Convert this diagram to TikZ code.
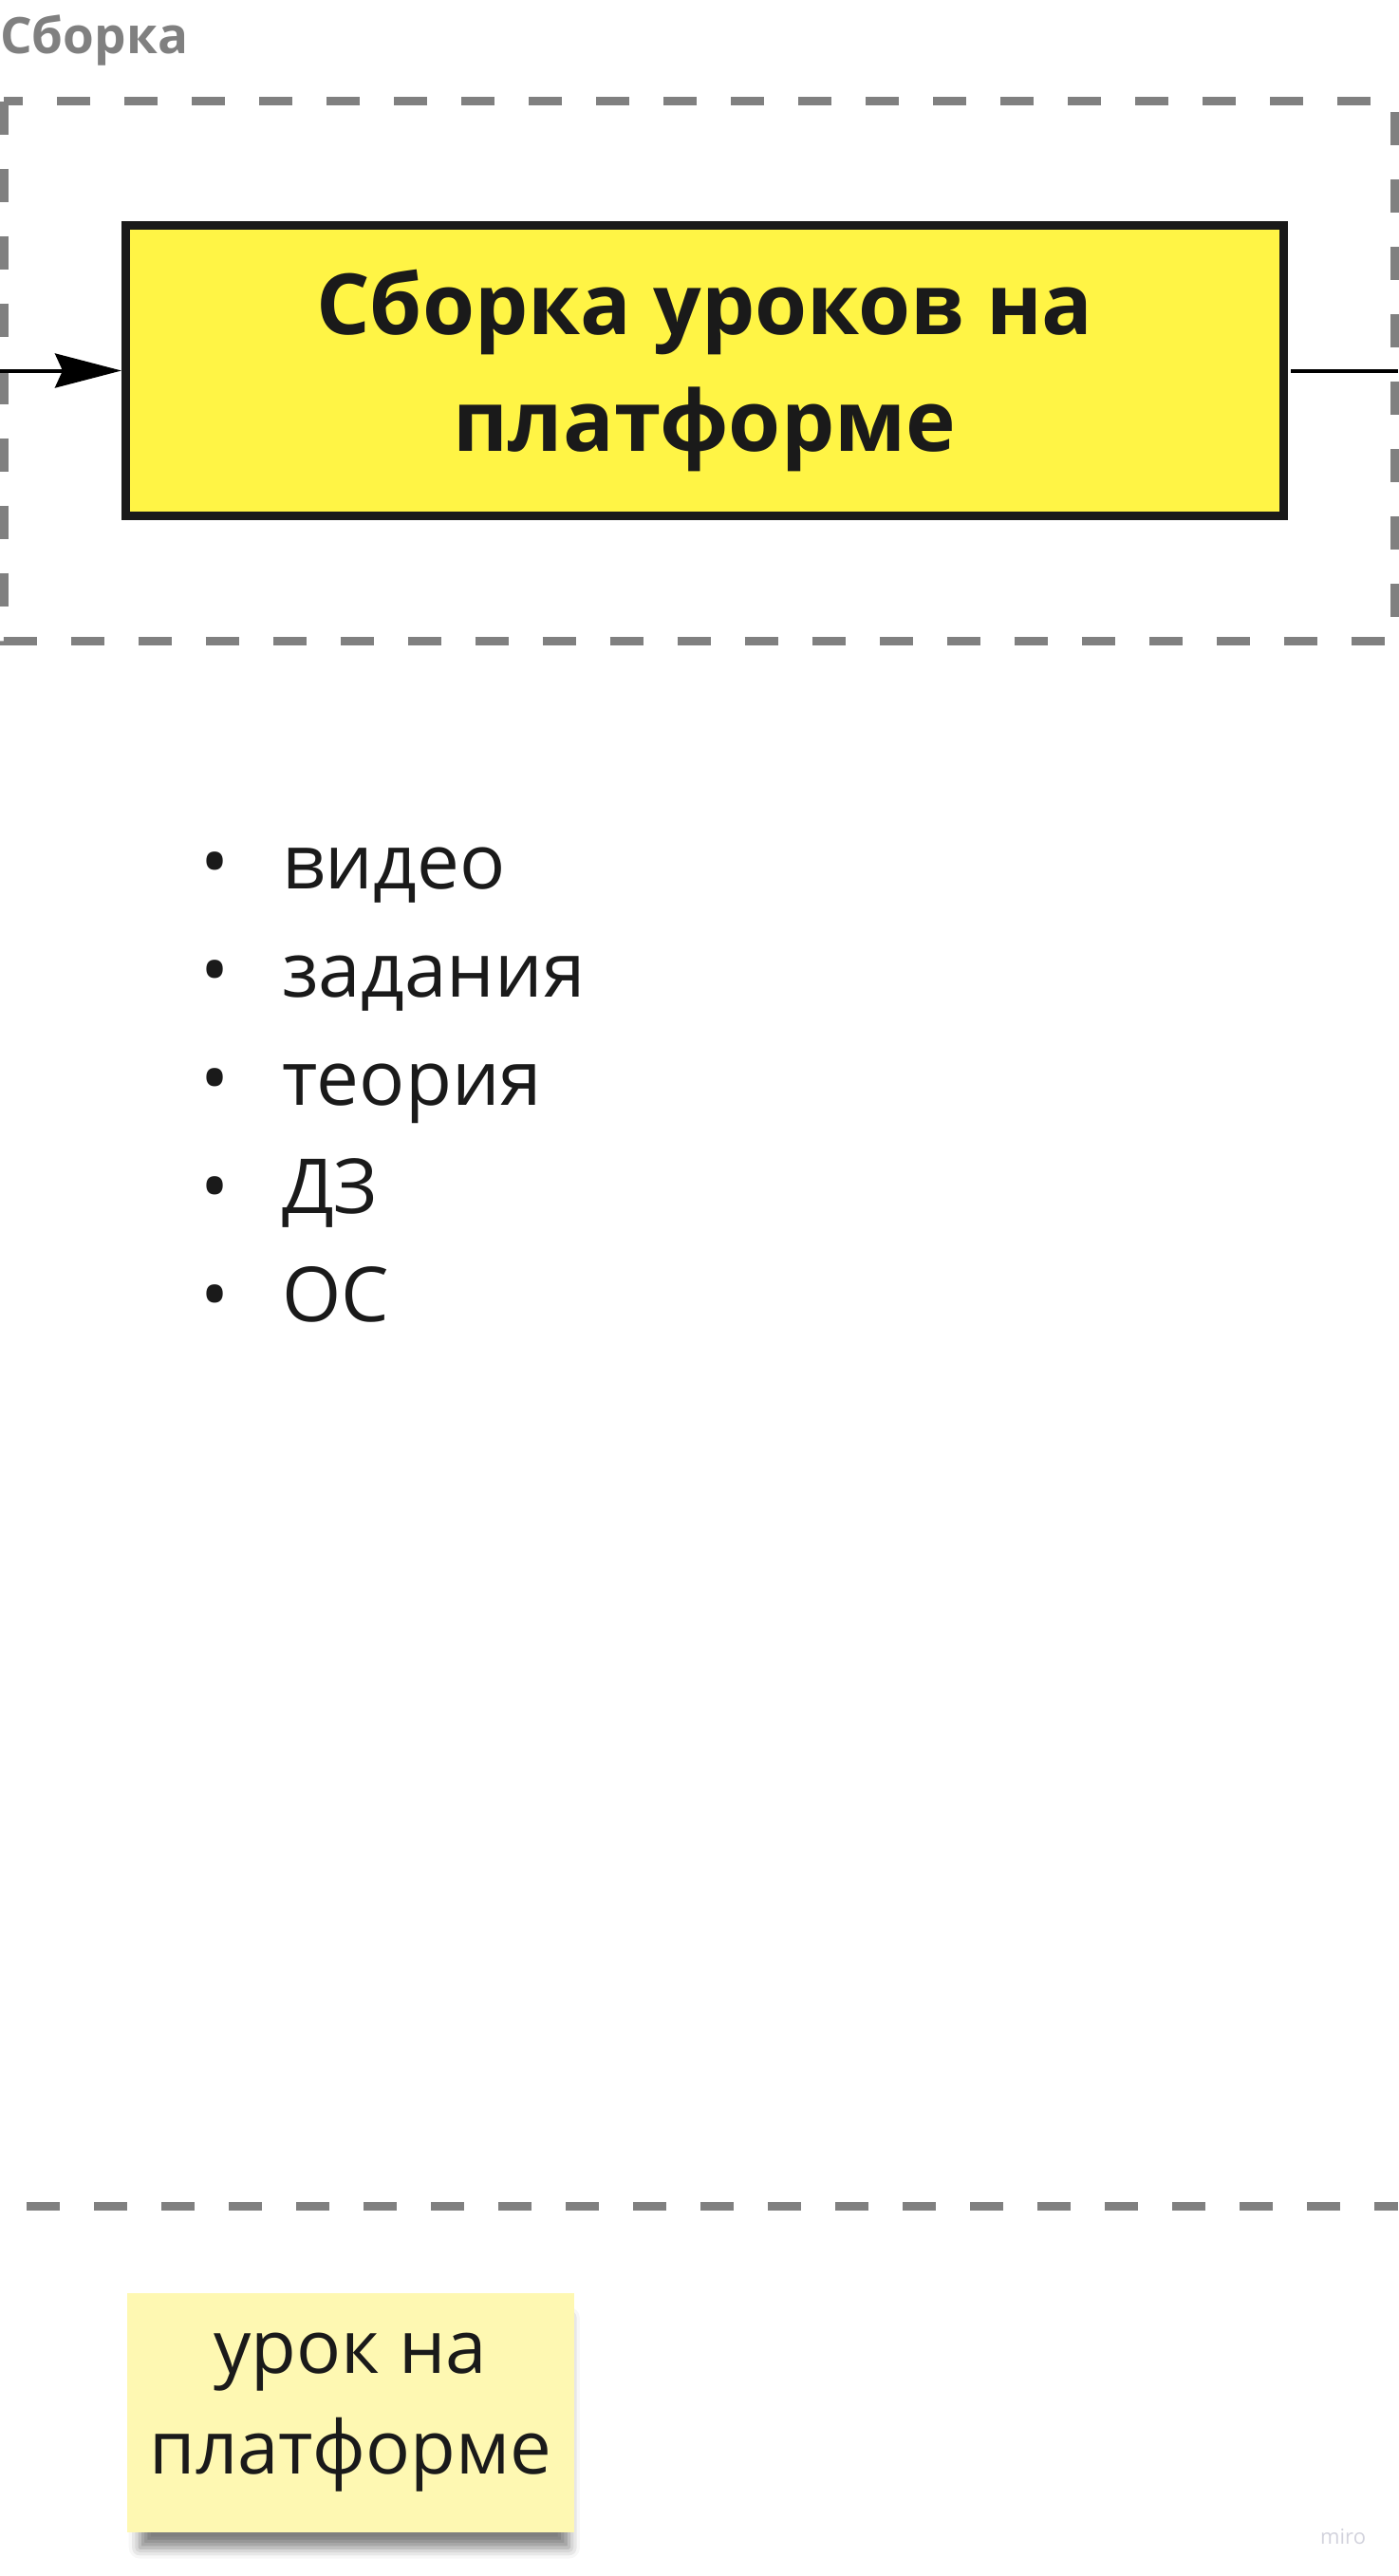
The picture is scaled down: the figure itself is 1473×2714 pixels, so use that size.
\documentclass[tikz,border=0pt]{standalone}
\usepackage{fontspec}
\setmainfont{Open Sans}
\usetikzlibrary{arrows.meta,shadows.blur}
\definecolor{frameGray}{HTML}{808080}
\definecolor{boxYellow}{HTML}{FFF445}
\definecolor{inkBlack}{HTML}{1A1A1A}
\definecolor{noteYellow}{HTML}{FEF8B2}
\definecolor{miroGray}{HTML}{D2D2DC}
\begin{document}
\begin{tikzpicture}[x=1pt,y=-1pt,
  frameline/.style={draw=frameGray,line width=9pt,dash pattern=on 35pt off 36pt},
  item/.style={anchor=base west,inner sep=0pt,text=inkBlack,font=\fontsize{80}{96}\selectfont},
  dot/.style={anchor=base,inner sep=0pt,text=inkBlack,font=\fontsize{80}{96}\selectfont}]
\useasboundingbox (0,0) rectangle (1473,2714);
% frame round the block
\node[anchor=base west,inner sep=0pt,text=frameGray,font=\bfseries\fontsize{53}{60}\selectfont] (title) at (0,57) {Сборка};
\draw[frameline] (4,106.5) rectangle (1469,675);
\draw[frameline] (28,2324.5) -- (1473,2324.5);
% block with its in and out lines
\node[draw=inkBlack,line width=9pt,fill=boxYellow,minimum width=1220pt,minimum height=306pt,align=center,text=inkBlack,font=\bfseries\fontsize{89}{123}\selectfont] (build) at (742.5,390.5) {Сборка уроков на\\платформе};
\coordinate (in) at (0,390.5);
\coordinate (out) at (1473,390.5);
\path[draw,line width=4pt,-{Stealth[length=70pt,width=36pt,inset=8pt]}] (in) -- (build.west);
\path[draw,line width=4pt,shorten <=3pt] (build.east) -- (out);
% list
\foreach \txt [count=\i] in {видео,задания,теория,ДЗ,ОС} {
  \node[dot] (b\i) at (227,{822+114*\i}) {•};
  \node[item] (i\i) at (297,{822+114*\i}) {\txt};
}
% sticky note
\node[fill=noteYellow,minimum width=471pt,minimum height=252pt,align=center,text=inkBlack,font=\fontsize{78}{106}\selectfont,
  blur shadow={shadow xshift=4pt,shadow yshift=-22pt,shadow blur radius=12pt,shadow opacity=50,shadow scale=0.96}] (note) at (369.5,2542) {урок на\\платформе};
\node[anchor=base west,inner sep=0pt,text=miroGray,font=\fontsize{22}{24}\selectfont] (logo) at (1391,2680) {miro};
\end{tikzpicture}
\end{document}
